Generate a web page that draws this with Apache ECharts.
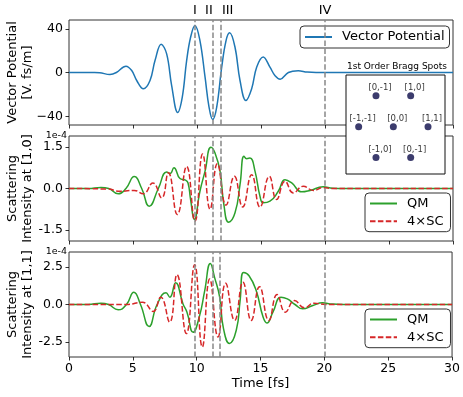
<!DOCTYPE html>
<html><head><meta charset="utf-8">
<script src="https://cdn.jsdelivr.net/npm/echarts@6/dist/echarts.min.js"></script>
<style>html,body{margin:0;padding:0;background:#fff}#main{width:463px;height:397px}</style>
</head><body><div id="main"></div>
<script>
const FONT = 'DejaVu Sans';

// Vector potential (V. fs/m)
const vpT = [0, 1, 2, 2.4, 3.2, 3.7, 4.45, 4.9, 5.29, 5.81, 6.33, 6.72, 7.2, 7.63, 8.02, 8.49, 8.85, 9.19, 9.5, 9.84, 10.23, 10.63, 10.94, 11.22, 11.54, 11.93, 12.27, 12.55, 12.97, 13.36, 13.82, 14.27, 14.66, 15.17, 15.7, 16.1, 16.5, 17.14, 17.91, 18.6, 19.3, 20, 25, 30];
const vpV = [0, 0, 0, -0.2, -1.8, 0, 5.8, 1.8, -7.3, -14.9, -7.3, 10.9, 25.8, 17, -11.9, -36.5, -22.5, 10.9, 32.2, 43, 29.2, -4.3, -31.6, -43, -31.6, 4.9, 29.2, 36.3, 23.1, -7.3, -25.7, -14.9, 4.9, 14.2, 4.9, -3, -6.1, 0, 1.5, 0.4, 0, 0, 0, 0];

// Scattering intensity at [1,0] (units of 1e-4)
const qm10T = [0, 1.5, 2.5, 3.1, 3.85, 4.45, 5.1, 5.68, 6.27, 6.98, 7.63, 7.9, 8.2, 8.67, 9.1, 9.3, 9.5, 9.79, 10.23, 10.63, 11.09, 11.4, 11.8, 12.1, 12.47, 12.97, 13.36, 13.67, 13.88, 14.14, 14.53, 14.92, 15.18, 15.7, 16.35, 16.88, 17.4, 18.18, 18.83, 19.85, 20.6, 21.5, 30];
const qm10V = [0, 0, 0.04, 0, -0.19, 0, 0.43, 0, -0.64, 0, 0.6, 0.54, 0.75, 0.36, 0.3, 0.2, -0.4, -1.12, -0.1, 0.63, 1.49, 1.29, 0.63, -0.58, -1.22, -0.88, 0.14, 1.17, 1.08, 1.1, 0.63, -0.28, -0.52, -0.46, -0.1, 0.32, 0.2, -0.12, -0.07, 0.06, 0.01, 0, 0];
const sc10T = [0, 3.0, 4.0, 5.1, 5.8, 6.55, 7.24, 7.76, 8.46, 9.19, 9.84, 10.44, 11.02, 11.59, 12.27, 12.92, 13.57, 14.27, 14.92, 15.65, 16.22, 16.88, 17.53, 18.3, 19.1, 19.85, 20.6, 30];
const sc10V = [0, -0.02, -0.1, -0.07, -0.19, 0.2, -0.34, 0.57, -0.94, 0.8, -1.18, 1.25, -0.75, 0.9, -0.6, 0.44, -0.67, 0.5, -0.67, 0.44, -0.4, 0.26, -0.16, 0.08, -0.07, 0.03, 0, 0];

// Scattering intensity at [1,1] (units of 1e-4)
const qm11T = [0, 1.5, 2.5, 3.1, 3.85, 4.5, 5.08, 5.6, 6.27, 6.9, 7.6, 7.9, 8.35, 8.93, 9.24, 9.72, 10.2, 10.63, 11.07, 11.4, 11.8, 12.1, 12.57, 13.1, 13.4, 13.67, 14.1, 14.66, 15.2, 15.5, 15.97, 16.6, 17.1, 17.7, 18.3, 19.1, 19.85, 20.6, 21.5, 30];
const qm11V = [0, 0, 0.09, 0, -0.35, 0, 0.82, 0, -1.46, 0, 0.78, 0.49, 1.45, 0.04, -0.51, -1.85, -0.84, 0.93, 2.74, 1.81, 0.49, -1.61, -2.6, -1.72, 0.26, 2.14, 1.92, 0.93, -0.84, -1.24, -0.51, 0.49, 0.37, 0, -0.29, -0.07, 0.11, 0.03, 0, 0];
const sc11T = [0, 4.5, 5.75, 6.59, 7.18, 7.88, 8.46, 9.19, 9.84, 10.44, 11.02, 11.67, 12.27, 12.97, 13.62, 14.27, 14.92, 15.65, 16.3, 16.95, 17.66, 18.44, 19.2, 20.1, 30];
const sc11V = [0, 0, 0.15, -0.46, 0.49, -1.17, 1.99, -1.94, 2.65, -2.83, 1.7, -2.16, 1.41, -1.06, 1.48, -1.06, 1.19, -1.06, 0.66, -0.51, 0.26, -0.22, 0.09, 0, 0];

// Vertical markers
const markerTimes = [9.84, 11.23, 11.83, 20];
const markerNames = ['I', 'II', 'III', 'IV'];
const markerAlign = ['center', 'right', 'left', 'center'];

// Tick labels
const xTicks = [0, 5, 10, 15, 20, 25, 30];
const vpTicks = [-40, 0, 40];
const i10Ticks = [-1.5, 0, 1.5];
const i11Ticks = [-2.5, 0, 2.5];

// Bragg spot inset
const spotX = [-0.5, 0.5, -1, 0, 1, -0.5, 0.5];
const spotY = [1, 1, 0, 0, 0, -1, -1];
const spotLabels = ['[0,-1]', '[1,0]', '[-1,-1]', '[0,0]', '[1,1]', '[-1,0]', '[0,-1]'];

const zip = (t, v) => t.map((x, i) => [x, v[i]]);

const G = [
  {left: 69, top: 20, width: 384, height: 105},
  {left: 69, top: 136, width: 384, height: 105},
  {left: 69, top: 252, width: 384, height: 105}
];

const gridOpts = G.map(g => Object.assign({show: true, borderColor: '#333', borderWidth: 1, backgroundColor: 'transparent', containLabel: false}, g));
gridOpts.push({left: 346, top: 75, width: 99, height: 99, show: true, borderColor: '#111', borderWidth: 1, backgroundColor: '#fff', z: 20});

const tickStyle = {color: '#000', width: 0.8};
const xAxisFor = (gi, showLabels) => ({
  type: 'value', gridIndex: gi, position: 'bottom', min: xTicks[0], max: xTicks[xTicks.length - 1], interval: xTicks[1] - xTicks[0],
  axisLine: {show: false, onZero: false}, splitLine: {show: false},
  axisTick: {show: true, length: 3.5, lineStyle: tickStyle},
  axisLabel: {show: showLabels, color: '#000', fontFamily: FONT, fontSize: 12.5, margin: 5},
  name: showLabels ? 'Time [fs]' : '', nameLocation: 'middle', nameGap: 20,
  nameTextStyle: {color: '#000', fontFamily: FONT, fontSize: 13}
});
const yAxisFor = (gi, lim, ticks, fmt) => ({
  type: 'value', gridIndex: gi, position: 'left', min: -lim, max: lim,
  axisLine: {show: false, onZero: false}, splitLine: {show: false},
  axisTick: {show: true, length: 3.5, lineStyle: tickStyle, customValues: ticks},
  axisLabel: {color: '#000', fontFamily: FONT, fontSize: 12.5, margin: 6, customValues: ticks, formatter: fmt}
});
const fmtVP = v => (v < 0 ? '\u2212' + Math.abs(v) : String(v));
const fmtI = v => v.toFixed(1);

const markLineFor = () => ({
  silent: true, symbol: 'none', animation: false,
  label: {show: false},
  lineStyle: {color: '#888', type: [5.5, 2.4], width: 1.5},
  data: markerTimes.map(t => ({xAxis: t}))
});

const lineSeries = (name, data, xi, color, dashed, withMark, smooth) => ({
  type: 'line', name, data, xAxisIndex: xi, yAxisIndex: xi,
  showSymbol: false, symbol: 'none', smooth: smooth,
  lineStyle: {color, width: 1.5, type: dashed ? [5.5, 2.4] : 'solid'},
  itemStyle: {color},
  markLine: withMark ? markLineFor() : undefined,
  z: 2
});

const legendBase = {
  orient: 'vertical', selectedMode: false, itemWidth: 27, itemHeight: 14,
  backgroundColor: '#fff', borderColor: '#333', borderWidth: 1, borderRadius: 4,
  itemStyle: {color: 'transparent', borderColor: 'transparent', borderWidth: 0, opacity: 0},
  textStyle: {color: '#000', fontFamily: FONT, fontSize: 13, padding: [0, 0, 0, 5]}
};

const baseGraphics = [
  {type: 'text', x: 20, y: G[0].top + G[0].height / 2, rotation: Math.PI / 2,
   style: {text: 'Vector Potential\n[V. fs/m]', fontFamily: FONT, fontSize: 13, lineHeight: 15.5, fill: '#000', align: 'center', verticalAlign: 'middle'}},
  {type: 'text', x: 20, y: G[1].top + G[1].height / 2, rotation: Math.PI / 2,
   style: {text: 'Scattering\nIntensity at [1,0]', fontFamily: FONT, fontSize: 13, lineHeight: 15.5, fill: '#000', align: 'center', verticalAlign: 'middle'}},
  {type: 'text', x: 20, y: G[2].top + G[2].height / 2, rotation: Math.PI / 2,
   style: {text: 'Scattering\nIntensity at [1,1]', fontFamily: FONT, fontSize: 13, lineHeight: 15.5, fill: '#000', align: 'center', verticalAlign: 'middle'}},
  {type: 'text', x: 67, y: G[1].top, style: {text: '1e-4', fontFamily: FONT, fontSize: 9.5, fill: '#000', align: 'right', verticalAlign: 'middle'}},
  {type: 'text', x: 67, y: G[2].top, style: {text: '1e-4', fontFamily: FONT, fontSize: 9.5, fill: '#000', align: 'right', verticalAlign: 'middle'}},
  {type: 'text', x: 397, y: 67, z: 30, style: {text: '1st Order Bragg Spots', fontFamily: FONT, fontSize: 9, fill: '#000', align: 'center', verticalAlign: 'middle'}}
];

const option = {
  animation: false,
  backgroundColor: '#fff',
  grid: gridOpts,
  xAxis: [xAxisFor(0, false), xAxisFor(1, false), xAxisFor(2, true),
    {type: 'value', gridIndex: 3, min: -1.365, max: 1.49, show: false}],
  yAxis: [yAxisFor(0, 48, vpTicks, fmtVP), yAxisFor(1, 1.9, i10Ticks, fmtI), yAxisFor(2, 3.5, i11Ticks, fmtI),
    {type: 'value', gridIndex: 3, min: -1.53, max: 1.67, show: false}],
  legend: [
    Object.assign({}, legendBase, {left: 300, top: 26, padding: [4.5, 5, 4.5, 4], data: ['Vector Potential'],
      textStyle: Object.assign({}, legendBase.textStyle, {width: 101})}),
    Object.assign({}, legendBase, {left: 365, top: 193, padding: [4, 7, 4, 4], itemGap: 4.7, data: ['QM', '4\u00d7SC'],
      textStyle: Object.assign({}, legendBase.textStyle, {width: 34})}),
    Object.assign({}, legendBase, {left: 365, top: 309, padding: [4, 7, 4, 4], itemGap: 4.7, data: ['QM', '4\u00d7SC'],
      textStyle: Object.assign({}, legendBase.textStyle, {width: 34})})
  ],
  series: [
    lineSeries('Vector Potential', zip(vpT, vpV), 0, '#1f77b4', false, true, 0.4),
    lineSeries('QM', zip(qm10T, qm10V), 1, '#2ca02c', false, true, 0.5),
    lineSeries('4\u00d7SC', zip(sc10T, sc10V), 1, '#d62728', true, false, 0.5),
    lineSeries('QM', zip(qm11T, qm11V), 2, '#2ca02c', false, true, 0.5),
    lineSeries('4\u00d7SC', zip(sc11T, sc11V), 2, '#d62728', true, false, 0.5),
    {
      type: 'scatter', name: 'spots', xAxisIndex: 3, yAxisIndex: 3, z: 21,
      data: spotX.map((x, i) => ({value: [x, spotY[i]], name: spotLabels[i]})),
      symbolSize: 7, itemStyle: {color: '#0b0b48'}, silent: true,
      label: {show: true, position: 'top', distance: 0, offset: [4, 0], formatter: p => p.name,
        color: '#000', fontFamily: FONT, fontSize: 8.5}
    }
  ],
  graphic: {elements: baseGraphics}
};

const chart = echarts.init(document.getElementById('main'), null, {renderer: 'canvas'});
chart.setOption(option);

const romanGraphics = markerTimes.map((t, i) => {
  const px = chart.convertToPixel({xAxisIndex: 0}, t);
  const dx = markerAlign[i] === 'left' ? 1.5 : 0;
  return {type: 'text', x: px + dx, y: G[0].top - 3,
    style: {text: markerNames[i], fontFamily: FONT, fontSize: 13, fill: '#000', align: markerAlign[i], verticalAlign: 'bottom'}};
});
chart.setOption({graphic: {elements: baseGraphics.concat(romanGraphics)}});
</script></body></html>
